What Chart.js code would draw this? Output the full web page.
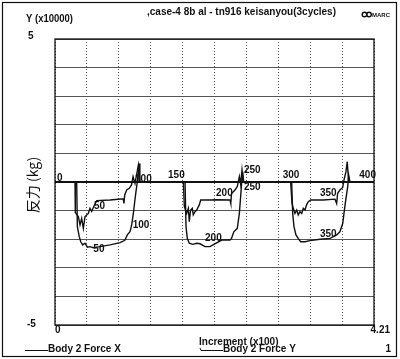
<!DOCTYPE html>
<html>
<head>
<meta charset="utf-8">
<script src="https://cdn.jsdelivr.net/npm/chart.js@4"></script>
<style>
body{margin:0;background:#fff;}
#wrap{width:400px;height:359px;}
</style>
</head>
<body>
<div id="wrap"><canvas id="chart" width="400" height="359"></canvas></div>
<script>
// increments (x axis) and force values (x10000)
let incX=[0,26.4,26.8,30.8,33,35.2,37.4,39.6,44,46.2,48.4,51.5,55,72.6,90,91,92,94.6,98,101,103,105.6,110,112,
    169.4,170.7,173.8,176,177.2,179,181.2,182.5,184.8,187,190.4,192.3,204.5,213.4,231,232,233,237.5,240.6,243.3,245,246.8,248.5,
    311,312.8,314.5,316.7,319,321,323.3,325.6,327.7,330,332,334.3,337.4,354,369.5,371.7,373,376,379.7,381.4,384,385.7,387.5,421];
let forceX=[0,0,-1.07,-1.21,-1.5,-1.27,-1.62,-1.21,-1.1,-0.92,-1.03,-0.84,-0.65,-0.63,-0.59,-0.75,-0.45,-0.28,-0.22,-0.1,0.19,-0.05,0.59,0,
    0,-0.86,-1.1,-0.92,-1.39,-0.98,-0.92,-1.15,-1.04,-0.98,-0.8,-0.63,-0.63,-0.62,-0.63,-0.75,-0.4,-0.28,-0.16,0.19,-0.07,0.42,0,
    0,-0.75,-0.92,-1.1,-0.98,-1.15,-1.04,-1.1,-0.92,-0.98,-0.8,-0.69,-0.63,-0.63,-0.6,-0.75,-0.4,-0.28,-0.19,0.07,0.36,0.71,0,0];

let incY=[0,28.6,29.5,32,34,36.5,39.6,42.7,46.2,50.6,59.4,72.6,85.8,89.3,92.4,95.4,99,101.2,103.4,106,108.6,110.4,111.3,112,
    171.6,172.9,174.6,177.2,181.7,187,191.4,198,204.5,220,231,233,236,240.6,243.3,245,246.4,247.7,249,
    312.3,313.7,315.4,318,321,324.2,330,336.5,349.7,363,371.7,376,379.7,381.4,383.1,385,386.3,387.6,389.3,421];
let forceY=[0,0,-1.56,-1.91,-2.09,-2.2,-2.14,-2.28,-2.26,-2.3,-2.26,-2.2,-2.12,-2.08,-2.03,-1.85,-1.74,-1.5,-1.1,-0.51,0,0.42,0.65,0,
    0,-1.56,-1.97,-2.14,-2.18,-2.14,-2.16,-2.26,-2.26,-2.03,-2.03,-1.97,-1.74,-1.62,-1.1,-0.51,0,0.36,0,
    0,-1.1,-1.56,-1.85,-1.97,-2.09,-2.09,-2.05,-2,-1.97,-1.85,-1.74,-1.45,-1.1,-0.75,-0.4,-0.16,0.24,0,0];

// increment markers written along the curves
let markText=["0","50","50","100","100","150","200","200","250","250","300","350","350","400"];
let markInc=[2.6,51.5,50.6,105.6,102.5,149.2,212.5,198,249.4,249.4,300.5,349.7,349.7,401.6];
let markVal=[0.03,-0.95,-2.44,0,-1.62,0.13,-0.49,-2.08,0.31,-0.28,0.13,-0.49,-1.94,0.13];

let xMin=0, xMax=421, yMin=-5, yMax=5;

function pairs(xs,ys){
    let out=[];
    for(let i=0;i<xs.length;i++){
        out.push({x:xs[i],y:ys[i]});
    }
    return out;
}

let font="'Liberation Sans', Arial, sans-serif";

function txt(c,s,x,y,size,align,maxW){
    c.font="bold "+size+"px "+font;
    c.textAlign=align||"left";
    c.textBaseline="alphabetic";
    if(maxW){
        c.fillText(s,x,y,maxW);
    }else{
        c.fillText(s,x,y);
    }
}

let decor={
    id:"decor",
    beforeDraw(chart){
        let c=chart.ctx;
        c.save();
        c.fillStyle="#fff";
        c.fillRect(0,0,400,359);
        c.restore();
    },
    afterDraw(chart){
        let c=chart.ctx;
        let a=chart.chartArea;
        let xs=chart.scales.x, ys=chart.scales.y;
        c.save();
        c.fillStyle="#111";
        c.strokeStyle="#111";

        // plot frame and outer frame
        c.lineWidth=1.3;
        c.strokeRect(a.left,a.top,a.right-a.left,a.bottom-a.top);
        c.lineWidth=1.2;
        c.strokeRect(2.5,2.5,394,354);

        // markers along the curves
        for(let i=0;i<markText.length;i++){
            txt(c,markText[i],xs.getPixelForValue(markInc[i]),ys.getPixelForValue(markVal[i]),10);
        }

        // axis labels
        txt(c,"5",28,39,10);
        txt(c,"-5",27,327,10);
        txt(c,"0",a.left,333,10);
        txt(c,"4.21",390,333,10,"right");
        txt(c,"Y (x10000)",26,22,10,"left",47);
        txt(c,",case-4 8b al - tn916 keisanyou(3cycles)",147,15,10,"left",193);
        txt(c,"Increment (x100)",199,345,10,"left",81);
        txt(c,"1",391,352,10,"right");

        // legend
        c.lineWidth=1;
        c.beginPath();
        c.moveTo(25,350.5);c.lineTo(48,350.5);
        c.stroke();
        txt(c,"Body 2 Force X",48,352,10,"left",76);
        c.beginPath();
        c.moveTo(200,348);c.lineTo(201,350.5);c.lineTo(223,350.5);
        c.stroke();
        txt(c,"Body 2 Force Y",223,352,10,"left",76);

        // MARC logo
        c.lineWidth=1.4;
        c.beginPath();
        c.arc(364.5,14.5,2.3,0,Math.PI*2);
        c.stroke();
        c.beginPath();
        c.arc(369,14.5,2.3,0,Math.PI*2);
        c.stroke();
        txt(c,"MARC",372,17,6,"left",18);

        // handwritten y title
        c.translate(33,185);
        c.rotate(-Math.PI/2);
        c.font="14px 'Noto Sans CJK JP', sans-serif";
        c.textAlign="center";
        c.textBaseline="middle";
        c.fillText("反力 (kg)",0,0,70);
        c.restore();
    }
};

let chart=new Chart(document.getElementById("chart"),{
    type:"scatter",
    data:{
        datasets:[
            {
                label:"Body 2 Force X",
                data:pairs(incX,forceX),
                showLine:true,
                borderColor:"#111",
                borderWidth:1.4,
                pointRadius:0,
                tension:0
            },
            {
                label:"Body 2 Force Y",
                data:pairs(incY,forceY),
                showLine:true,
                borderColor:"#111",
                borderWidth:1.4,
                pointRadius:0,
                tension:0
            }
        ]
    },
    options:{
        responsive:false,
        animation:false,
        layout:{padding:{left:55,top:39,right:26,bottom:34}},
        plugins:{legend:{display:false},tooltip:{enabled:false}},
        scales:{
            x:{
                type:"linear",
                min:xMin,
                max:xMax,
                ticks:{display:false,count:11},
                grid:{color:"#555",lineWidth:1,drawTicks:false},
                border:{display:false,dash:[1,2]}
            },
            y:{
                min:yMin,
                max:yMax,
                ticks:{display:false,stepSize:1},
                grid:{
                    color:function(ctx){return ctx.tick&&ctx.tick.value===0?"#111":"#555";},
                    lineWidth:function(ctx){return ctx.tick&&ctx.tick.value===0?2:1;},
                    drawTicks:false
                },
                border:{display:false}
            }
        }
    },
    plugins:[decor]
});
</script>
</body>
</html>
